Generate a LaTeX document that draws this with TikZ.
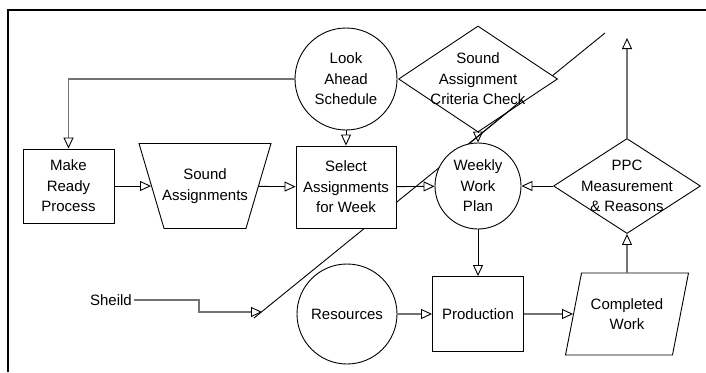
\documentclass[tikz,border=0pt]{standalone}
\usepackage{fontspec}
\setmainfont{Liberation Sans}
\usetikzlibrary{shapes.geometric, arrows.meta}

\begin{document}
\begin{tikzpicture}[x=1pt, y=-1pt, font=\fontsize{15}{20.5}\selectfont,
    box/.style={draw, fill=white, line width=0.9pt, align=center, inner sep=0pt},
    bubble/.style={circle, draw, fill=white, line width=0.9pt, align=center, inner sep=0pt},
    decision/.style={diamond, draw, fill=white, line width=0.9pt, inner sep=0pt},
    slab/.style={trapezium, draw, fill=white, line width=0.9pt, inner sep=2pt, trapezium stretches=true},
    flow/.style={-{Triangle[open, length=11pt, width=10pt]}, line width=0.9pt},
    grayflow/.style={-{Triangle[open, length=11pt, width=10pt, color=black, line width=0.9pt]}, draw=black!55, line width=1.4pt}]
    \useasboundingbox (0,0) rectangle (706,372);
    \draw[line width=2.5pt] (8,372) -- (8,10) -- (706,10);
    % stray line behind the shapes
    \coordinate (dtop) at (605,33);
    \coordinate (dend) at (254,318);
    \draw[line width=0.9pt] (dtop) -- (dend);
    % top row
    \node[bubble, minimum size=102pt] (look) at (346,79) {Look\\Ahead\\Schedule};
    \node[decision, minimum width=159pt, minimum height=106pt, label={[align=center]center:Sound\\Assignment\\Criteria Check}] (crit) at (478,79) {};
    % middle row
    \node[box, minimum width=91pt, minimum height=74pt] (mready) at (68.5,186) {Make\\Ready\\Process};
    \node[slab, shape border rotate=180, trapezium left angle=73, trapezium right angle=73, minimum width=132pt, minimum height=85pt, label={[align=center]center:Sound\\Assignments}] (sound) at (205,186) {};
    \node[box, minimum width=100pt, minimum height=82pt] (select) at (346,187) {Select\\Assignments\\for Week};
    \node[bubble, minimum size=86pt] (wwp) at (478,186) {Weekly\\Work\\Plan};
    \node[decision, minimum width=147pt, minimum height=95pt, label={[align=center]center:PPC\\Measurement\\\& Reasons}] (ppc) at (627,186) {};
    % bottom row
    \node[inner sep=2pt] (sheild) at (111,300) {Sheild};
    \node[bubble, minimum size=100pt] (res) at (347,314) {Resources};
    \node[box, minimum width=91pt, minimum height=75pt] (prod) at (478,314) {Production};
    \node[slab, trapezium left angle=80, trapezium right angle=100, minimum width=123pt, minimum height=82pt, label={[align=center]center:Completed\\Work}] (cw) at (627,314) {};
    % connectors
    \draw[grayflow] (look.west) -| (mready.north);
    \draw[flow] (look.south) -- (select.north);
    \draw[flow] (mready) -- (sound);
    \draw[flow] (sound) -- (select);
    \draw[flow] (select) -- (wwp);
    \draw[flow] (ppc) -- (wwp);
    \draw[flow] (crit) -- (wwp);
    \draw[flow] (wwp) -- (prod);
    \draw[grayflow] (res) -- (prod);
    \draw[grayflow] (prod) -- (cw);
    \draw[grayflow] (cw) -- (ppc);
    \coordinate (ppcout) at (627,38);
    \draw[grayflow] (ppc) -- (ppcout);
    \coordinate (shbend) at (199,312);
    \coordinate (shtip) at (262,312);
    \draw[grayflow] (sheild.east) -| (shbend) -- (shtip);
    % part of the stray line that shows over the check
    \coordinate (dk1) at (522,100);
    \coordinate (dk2) at (470,143);
    \draw[line width=0.9pt] (dk1) -- (dk2);
\end{tikzpicture}
\end{document}
